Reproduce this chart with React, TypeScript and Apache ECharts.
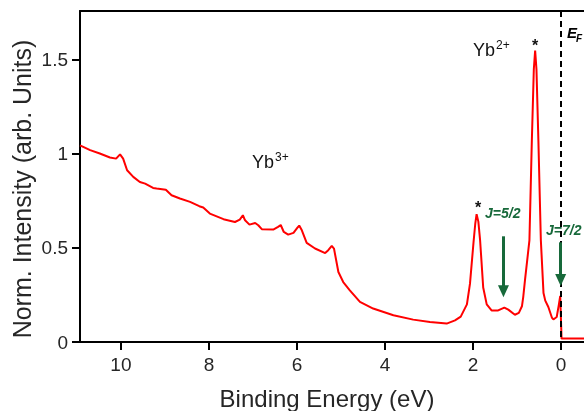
import React, { useEffect, useRef } from "react";
import * as echarts from "echarts";

// Binding energy (eV) and normalized intensity
const energy = [
  10.93, 10.7, 10.48, 10.25, 10.11, 10.02, 9.95, 9.86, 9.72, 9.57, 9.45, 9.27, 9.19, 8.98, 8.85, 8.66,
  8.43, 8.22, 8.13, 7.98, 7.67, 7.41, 7.3, 7.23, 7.18, 7.08, 6.95, 6.88, 6.8, 6.54, 6.43, 6.37, 6.3,
  6.2, 6.08, 5.99, 5.95, 5.89, 5.78, 5.59, 5.36, 5.29, 5.21, 5.16, 5.06, 4.95, 4.8, 4.57, 4.27, 3.81,
  3.36, 2.98, 2.6, 2.41, 2.28, 2.14, 2.07, 1.99, 1.95, 1.92, 1.88, 1.84, 1.77, 1.69, 1.58, 1.43, 1.29,
  1.2, 1.05, 0.96, 0.89, 0.86, 0.82, 0.72, 0.665, 0.62, 0.59, 0.56, 0.516, 0.46, 0.4, 0.36, 0.29, 0.21,
  0.175, 0.1, 0.05, 0.02, -0.01, -0.52,
];
const intensity = [
  1.046, 1.02, 1.002, 0.981, 0.975, 0.998, 0.975, 0.913, 0.878, 0.851, 0.842, 0.819, 0.816, 0.81, 0.78,
  0.763, 0.745, 0.722, 0.715, 0.683, 0.653, 0.638, 0.651, 0.674, 0.647, 0.624, 0.633, 0.621, 0.6, 0.598,
  0.612, 0.622, 0.585, 0.571, 0.58, 0.608, 0.619, 0.594, 0.527, 0.497, 0.473, 0.488, 0.511, 0.497, 0.372,
  0.319, 0.275, 0.213, 0.178, 0.142, 0.119, 0.106, 0.098, 0.115, 0.135, 0.2, 0.31, 0.53, 0.63, 0.68,
  0.64, 0.54, 0.29, 0.2, 0.168, 0.168, 0.183, 0.172, 0.145, 0.155, 0.19, 0.24, 0.33, 0.54, 1.07, 1.45,
  1.55, 1.45, 1.07, 0.54, 0.26, 0.22, 0.186, 0.13, 0.12, 0.133, 0.2, 0.245, 0.018, 0.018,
];

const xTicks = [0, 2, 4, 6, 8, 10];
const yTicks = [0, 0.5, 1, 1.5];
const X_MIN = -0.52;
const X_MAX = 10.93;
const Y_MIN = 0;
const Y_MAX = 1.76;
const FERMI = 0;

// Annotation arrows: [energy, start intensity, end intensity]
const arrowJ52 = [1.31, 0.562, 0.27];
const arrowJ72 = [0.01, 0.53, 0.33];

const FONT = "'Liberation Sans', Arial, sans-serif";
const GREEN = "#17693a";
const TXT = "#262626";

export default function App() {
  const ref = useRef<HTMLDivElement>(null);
  useEffect(() => {
    if (!ref.current) return;
    const chart = echarts.init(ref.current, null, { renderer: "svg" });
    const data = energy.map((e, i) => [e, intensity[i]]);
    const arrow = (a: number[]) => [
      { coord: [a[0], a[1]], symbol: "none" },
      { coord: [a[0], a[2]], symbol: "triangle", symbolSize: [11, 12] },
    ];
    chart.setOption({
      animation: false,
      grid: { left: 80, right: 0, top: 11, bottom: 69 },
      xAxis: [
        {
          type: "value",
          inverse: true,
          min: X_MIN,
          max: X_MAX,
          splitLine: { show: false },
          axisLine: { onZero: false, lineStyle: { color: "#000", width: 2 } },
          axisTick: { customValues: xTicks, length: 8, lineStyle: { color: "#000", width: 2 } },
          axisLabel: { customValues: xTicks, margin: 13, fontSize: 19, color: TXT, fontFamily: FONT },
        },
        {
          type: "value",
          position: "top",
          inverse: true,
          min: X_MIN,
          max: X_MAX,
          splitLine: { show: false },
          axisLine: { show: true, onZero: false, lineStyle: { color: "#000", width: 2 } },
          axisTick: { show: false },
          axisLabel: { show: false },
        },
      ],
      yAxis: {
        type: "value",
        min: Y_MIN,
        max: Y_MAX,
        splitLine: { show: false },
        axisLine: { show: true, onZero: false, lineStyle: { color: "#000", width: 2 } },
        axisTick: { show: true, customValues: yTicks, length: 8, lineStyle: { color: "#000", width: 2 } },
        axisLabel: { customValues: yTicks, margin: 12, fontSize: 19, color: TXT, fontFamily: FONT },
      },
      series: [
        {
          type: "line",
          data,
          showSymbol: false,
          symbol: "none",
          z: 2,
          lineStyle: { color: "#ff0000", width: 2 },
        },
        {
          type: "line",
          data: [],
          z: 3,
          markLine: {
            silent: true,
            animation: false,
            label: { show: false },
            symbol: ["none", "none"],
            lineStyle: { color: "#000", width: 2, type: [6, 4] },
            data: [[{ coord: [FERMI, Y_MAX] }, { coord: [FERMI, Y_MIN] }]],
          },
        },
        {
          type: "line",
          data: [],
          z: 4,
          markLine: {
            silent: true,
            animation: false,
            label: { show: false },
            symbol: ["none", "none"],
            lineStyle: { color: GREEN, width: 3, type: "solid" },
            data: [arrow(arrowJ52), arrow(arrowJ72)],
          },
        },
      ],
      graphic: [
        { type: "text", style: { text: "Binding Energy (eV)", x: 327, y: 398, textAlign: "center", textVerticalAlign: "middle", font: `24px ${FONT}`, fill: TXT } },
        { type: "text", rotation: Math.PI / 2, x: 22, y: 189, style: { text: "Norm. Intensity (arb. Units)", x: 0, y: 0, textAlign: "center", textVerticalAlign: "middle", font: `25px ${FONT}`, fill: TXT } },
        { type: "text", style: { text: "Yb", x: 252, y: 162, textVerticalAlign: "middle", font: `18px ${FONT}`, fill: "#111" } },
        { type: "text", style: { text: "3+", x: 275, y: 157, textVerticalAlign: "middle", font: `12px ${FONT}`, fill: "#111" } },
        { type: "text", style: { text: "Yb", x: 473, y: 50, textVerticalAlign: "middle", font: `18px ${FONT}`, fill: "#111" } },
        { type: "text", style: { text: "2+", x: 496, y: 45, textVerticalAlign: "middle", font: `12px ${FONT}`, fill: "#111" } },
        { type: "text", style: { text: "*", x: 535, y: 45, textAlign: "center", textVerticalAlign: "middle", font: `bold 16px ${FONT}`, fill: "#111" } },
        { type: "text", style: { text: "*", x: 478, y: 207, textAlign: "center", textVerticalAlign: "middle", font: `bold 16px ${FONT}`, fill: "#111" } },
        { type: "text", style: { text: "E", x: 567, y: 32, textVerticalAlign: "middle", font: `italic bold 15px ${FONT}`, fill: "#000" } },
        { type: "text", style: { text: "F", x: 576, y: 38, textVerticalAlign: "middle", font: `italic bold 10px ${FONT}`, fill: "#000" } },
        { type: "text", style: { text: "J=5/2", x: 485, y: 213, textVerticalAlign: "middle", font: `italic bold 14px ${FONT}`, fill: GREEN } },
        { type: "text", style: { text: "J=7/2", x: 546, y: 230, textVerticalAlign: "middle", font: `italic bold 14px ${FONT}`, fill: GREEN } },
      ],
    });
    return () => chart.dispose();
  }, []);
  return <div ref={ref} style={{ position: "fixed", left: 0, top: 0, width: 584, height: 411 }} />;
}
